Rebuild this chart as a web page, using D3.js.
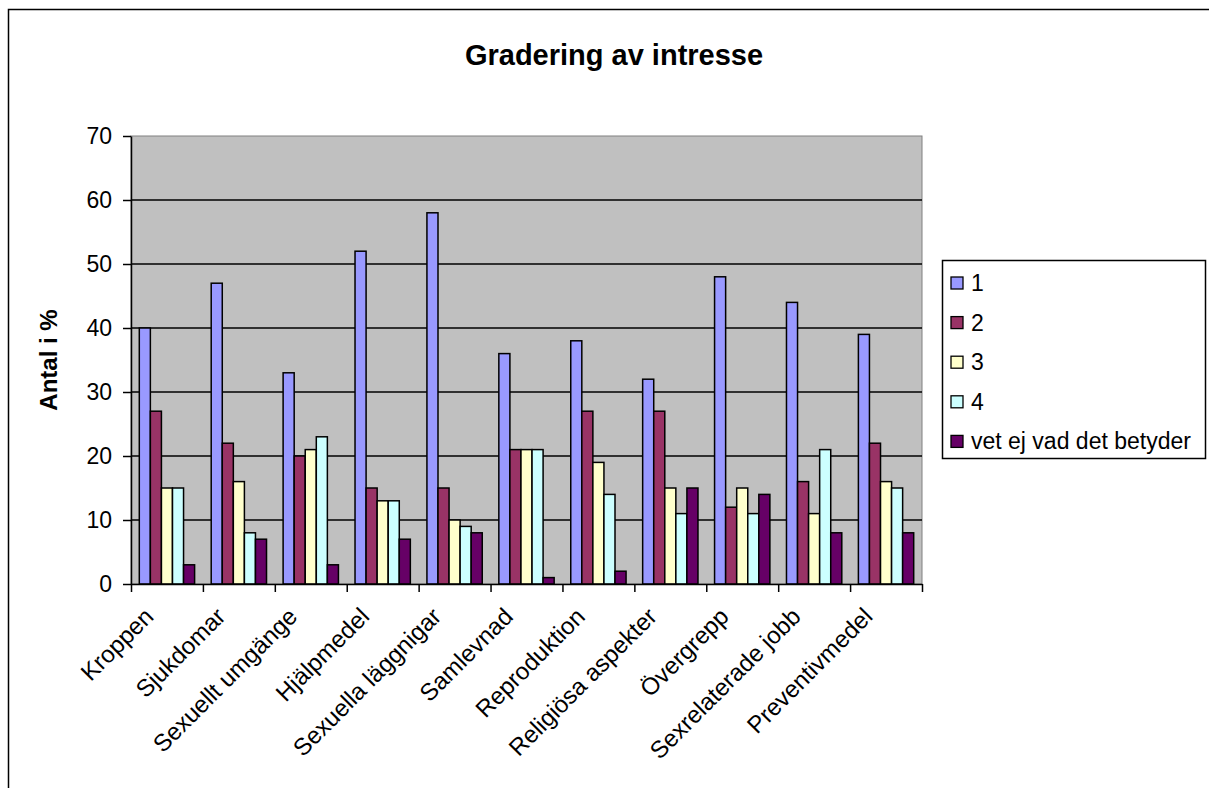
<!DOCTYPE html>
<html>
<head>
<meta charset="utf-8">
<script src="https://d3js.org/d3.v7.min.js"></script>
<style>
  body { margin: 0; background: #fff; }
  text { font-family: "Liberation Sans", Arial, sans-serif; fill: #000; }
</style>
</head>
<body>
<div id="chart"></div>
<script>
// categories on the x axis
var categories = ["Kroppen", "Sjukdomar", "Sexuellt umgänge", "Hjälpmedel", "Sexuella läggnigar",
  "Samlevnad", "Reproduktion", "Religiösa aspekter", "Övergrepp", "Sexrelaterade jobb", "Preventivmedel"];

// series names (legend)
var seriesNames = ["1", "2", "3", "4", "vet ej vad det betyder"];

// values per series, one per category
var s1 = [40, 47, 33, 52, 58, 36, 38, 32, 48, 44, 39];
var s2 = [27, 22, 20, 15, 15, 21, 27, 27, 12, 16, 22];
var s3 = [15, 16, 21, 13, 10, 21, 19, 15, 15, 11, 16];
var s4 = [15, 8, 23, 13, 9, 21, 14, 11, 11, 21, 15];
var s5 = [3, 7, 3, 7, 8, 1, 2, 15, 14, 8, 8];

var yTicks = [0, 10, 20, 30, 40, 50, 60, 70];

var seriesValues = [s1, s2, s3, s4, s5];
var colors = ["#9999FF", "#993366", "#FFFFCC", "#CCFFFF", "#660066"];

// dimensions of the graph
var W = 1209, H = 788;
var margin = {top: 136, right: 287, bottom: 204, left: 131},
    width = W - margin.left - margin.right,
    height = H - margin.top - margin.bottom;

var svg0 = d3.select("#chart").append("svg")
    .attr("width", W)
    .attr("height", H);

// chart border
svg0.append("rect")
  .attr("x", 8.5).attr("y", 9.5)
  .attr("width", W + 20).attr("height", H + 20)
  .attr("fill", "none").attr("stroke", "#000").attr("stroke-width", 1.5);

// title
svg0.append("text")
  .attr("x", 614).attr("y", 65)
  .attr("text-anchor", "middle")
  .style("font-size", "29px").style("font-weight", "bold")
  .text("Gradering av intresse");

var svg = svg0.append("g")
  .attr("transform", "translate(" + margin.left + "," + margin.top + ")");

// scales
var x = d3.scaleBand().domain(categories).range([0, width]).paddingInner(0).paddingOuter(0);
var xSub = d3.scaleBand().domain(d3.range(seriesNames.length))
  .range([0, x.bandwidth()]).paddingInner(0).paddingOuter(0.75);
var y = d3.scaleLinear().domain([0, 70]).range([height, 0]);
var color = d3.scaleOrdinal().domain(seriesNames).range(colors);

// plot area
svg.append("rect")
  .attr("x", 0).attr("y", 0)
  .attr("width", width).attr("height", height)
  .attr("fill", "#C0C0C0").attr("stroke", "#808080").attr("stroke-width", 1);

// gridlines
svg.append("g")
  .selectAll("line")
  .data(yTicks.slice(1, -1))
  .enter().append("line")
    .attr("x1", 0).attr("x2", width)
    .attr("y1", function(d) { return y(d); })
    .attr("y2", function(d) { return y(d); })
    .attr("stroke", "#000").attr("stroke-width", 1.3);

// bars
var rows = categories.map(function(c, i) {
  return {cat: c, vals: seriesValues.map(function(s, k) { return {k: k, v: s[i]}; })};
});

svg.append("g")
  .selectAll("g")
  .data(rows)
  .enter().append("g")
    .attr("transform", function(d) { return "translate(" + x(d.cat) + ",0)"; })
  .selectAll("rect")
  .data(function(d) { return d.vals; })
  .enter().append("rect")
    .attr("x", function(d) { return xSub(d.k); })
    .attr("y", function(d) { return y(d.v); })
    .attr("width", xSub.bandwidth())
    .attr("height", function(d) { return height - y(d.v); })
    .attr("fill", function(d) { return colors[d.k]; })
    .attr("stroke", "#000").attr("stroke-width", 1.5);

// Y axis
var yAxis = svg.append("g")
  .call(d3.axisLeft(y).tickValues(yTicks).tickSize(8).tickPadding(11).tickSizeOuter(0));
yAxis.select(".domain").attr("stroke", "#000").attr("stroke-width", 1.5);
yAxis.selectAll(".tick line").attr("stroke-width", 1.5);
yAxis.selectAll("text").style("font-size", "23px").style("font-family", "'Liberation Sans', Arial, sans-serif");

// X axis: category boundary ticks
var xb = d3.scaleLinear().domain([0, categories.length]).range([0, width]);
var xAxisTicks = svg.append("g")
  .attr("transform", "translate(0," + height + ")")
  .call(d3.axisBottom(xb).ticks(categories.length).tickSize(8).tickFormat("").tickSizeOuter(0));
xAxisTicks.select(".domain").attr("stroke", "#000").attr("stroke-width", 1.5);
xAxisTicks.selectAll(".tick line").attr("stroke-width", 1.5);

// X axis labels
var xAxis = svg.append("g")
  .attr("transform", "translate(0," + height + ")")
  .call(d3.axisBottom(x).tickSize(0));
xAxis.select(".domain").remove();
xAxis.selectAll("text")
  .style("font-size", "24px")
  .style("font-family", "'Liberation Sans', Arial, sans-serif")
  .style("text-anchor", "end")
  .attr("dy", 0).attr("y", 0).attr("x", 0)
  .attr("transform", "translate(-12,34) rotate(-45)");

// Y axis title
svg0.append("text")
  .attr("transform", "translate(57," + (margin.top + height / 2) + ") rotate(-90)")
  .attr("text-anchor", "middle")
  .style("font-size", "24px").style("font-weight", "bold")
  .text("Antal i %");

// legend
var legend = svg0.append("g").attr("transform", "translate(942,260)");
legend.append("rect")
  .attr("x", 0.5).attr("y", 0.5).attr("width", 263).attr("height", 198)
  .attr("fill", "#fff").attr("stroke", "#000").attr("stroke-width", 1.5);

var items = legend.selectAll("g.item")
  .data(seriesNames)
  .enter().append("g")
    .attr("class", "item")
    .attr("transform", function(d, i) { return "translate(0," + (23 + i * 39.6) + ")"; });
items.append("rect")
  .attr("x", 9).attr("y", -6).attr("width", 12).attr("height", 12)
  .attr("fill", function(d) { return color(d); })
  .attr("stroke", "#000").attr("stroke-width", 1.3);
items.append("text")
  .attr("x", 29).attr("y", 8)
  .style("font-size", "23px")
  .text(function(d) { return d; });
</script>
</body>
</html>
